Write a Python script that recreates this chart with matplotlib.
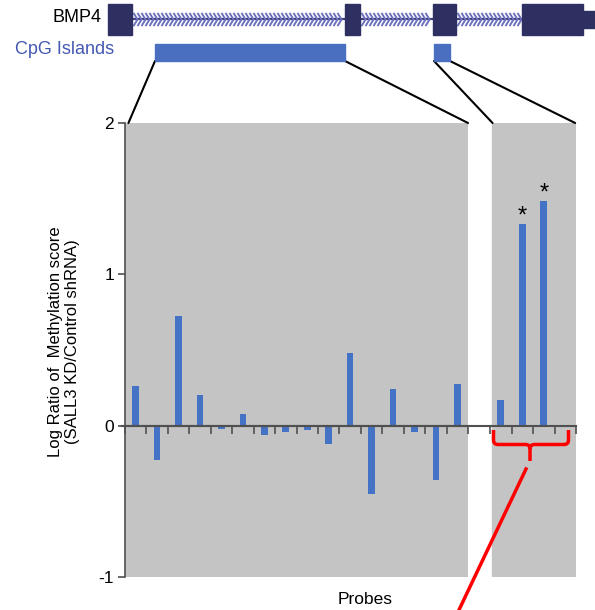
import numpy as np
import matplotlib
matplotlib.use("Agg")
import matplotlib.pyplot as plt
from matplotlib.path import Path
from matplotlib.patches import Rectangle, PathPatch, ConnectionPatch

plt.rcParams['font.family'] = ['Liberation Sans', 'DejaVu Sans']

# probe values, CpG island 1 (16 probes) and CpG island 2 (4 probes)
left_vals = [0.26, -0.23, 0.725, 0.20, -0.02, 0.075, -0.06, -0.045,
             -0.03, -0.12, 0.48, -0.45, 0.245, -0.045, -0.36, 0.275]
right_vals = [0.17, 1.33, 1.485, -0.01]
right_stars = [False, True, True, False]

# gene model (drawn in figure pixel units)
exon_start = [108, 345, 433, 522]
exon_end = [132, 360, 456, 583]
utr_start, utr_end = 583, 595
cpg_start = [155, 434]
cpg_end = [345, 450]

W, H = 595, 610
bar_color = '#4472C4'
gray = '#C4C4C4'
axis_color = '#505050'

fig = plt.figure(figsize=(W / 100, H / 100), dpi=100)


def px_axes(x0, y0, x1, y1):
    return fig.add_axes([x0 / W, 1 - y1 / H, (x1 - x0) / W, (y1 - y0) / H])


ax_l = px_axes(125, 123, 468, 577)
ax_r = px_axes(490, 123, 576, 577)

for ax, vals in [(ax_l, left_vals), (ax_r, right_vals)]:
    n = len(vals)
    ax.set_facecolor(gray)
    ax.bar(np.arange(n), vals, width=0.31, color=bar_color, zorder=3)
    ax.set_xlim(-0.5, n - 0.5)
    ax.set_ylim(-1, 2)
    ax.spines['top'].set_visible(False)
    ax.spines['right'].set_visible(False)
    ax.spines['bottom'].set_position(('data', 0))
    ax.spines['bottom'].set_color(axis_color)
    ax.spines['bottom'].set_linewidth(1.5)
    ax.spines['bottom'].set_zorder(4)
    ax.set_xticks(np.arange(n + 1) - 0.5)
    ax.tick_params(axis='x', direction='out', length=6, width=1.2,
                   colors=axis_color, labelbottom=False)

ax_l.spines['left'].set_color(axis_color)
ax_l.spines['left'].set_linewidth(1.2)
ax_l.set_yticks([-1, 0, 1, 2])
ax_l.set_yticklabels(['-1', '0', '1', '2'])
ax_l.tick_params(axis='y', direction='out', length=5, width=1.2,
                 color=axis_color, labelsize=12.5, pad=3)
ax_r.spines['left'].set_visible(False)
ax_r.set_yticks([])
# right panel's gray starts a touch inside its first tick
ax_r.set_facecolor('none')
ax_r.axvspan(-0.41, 3.5, color=gray, zorder=0)
# zero line bridging the gap between panels
ax_l.axhline(0, xmin=-0.01, xmax=(576 - 125) / 343, color=axis_color,
             lw=1.5, clip_on=False, zorder=4)

for i, (v, s) in enumerate(zip(right_vals, right_stars)):
    if s:
        ax_r.text(i, v + 0.012, '*', ha='center', va='baseline', fontsize=17)

fig.text(64 / W, 1 - 342 / H,
         'Log Ratio of  Methylation score\n(SALL3 KD/Control shRNA)',
         rotation=90, ha='center', va='center', fontsize=12,
         multialignment='center')
fig.text(365 / W, 1 - 600 / H, 'Probes', ha='center', va='center', fontsize=12.5)

# overlay in pixel coordinates for the gene model and annotations
ov = fig.add_axes([0, 0, 1, 1], zorder=5)
ov.patch.set_alpha(0)
ov.set_xlim(0, W)
ov.set_ylim(H, 0)
ov.axis('off')

chevron = Path([(-0.3, 1), (0.3, 0), (-0.3, -1)],
               [Path.MOVETO, Path.LINETO, Path.LINETO])
for a, b in zip(exon_end[:-1], exon_start[1:]):
    ov.plot([a, b], [19, 19], color='#3E4080', lw=1.6, zorder=1)
    xs = np.arange(a + 3, b - 2, 4.0)
    ov.plot(xs, np.full_like(xs, 19), ls='none', marker=chevron,
            markersize=9.5, mfc='none', mec='#6E71BC', mew=1.4, zorder=2)
for a, b in zip(exon_start, exon_end):
    ov.add_patch(Rectangle((a, 4), b - a, 30.5, color='#2F3062', zorder=3))
ov.add_patch(Rectangle((utr_start, 11), utr_end - utr_start, 17, color='#2F3062', zorder=3))
for a, b in zip(cpg_start, cpg_end):
    ov.add_patch(Rectangle((a, 44), b - a, 17, color='#4A6FC0', zorder=3))

ov.text(102, 17, 'BMP4', ha='right', va='center', fontsize=13)
ov.text(114, 50, 'CpG Islands', ha='right', va='center', fontsize=13, color='#4458B2')

# lines linking CpG islands to their panels
links = [((cpg_start[0], 61), ax_l, (0.01, 1.0)), ((cpg_end[0], 61), ax_l, (1.0, 1.0)),
         ((cpg_start[1], 61), ax_r, (0.03, 1.0)), ((cpg_end[1], 61), ax_r, (0.99, 1.0))]
for xy, tax, xyb in links:
    con = ConnectionPatch(xyA=xy, coordsA=ov.transData, xyB=xyb,
                          coordsB=tax.transAxes, color='black', lw=1.5)
    fig.add_artist(con)

# red brace under CpG island 2 probes
bl, br, bc, top, mid, tip = 493.5, 568.5, 530, 430, 444.5, 461
r = 4.5
brace = Path([(bl, top), (bl, mid - r), (bl, mid), (bl + r, mid), (bc - r, mid),
              (bc, mid), (bc, mid + r), (bc, tip),
              (br, top), (br, mid - r), (br, mid), (br - r, mid), (bc + r, mid),
              (bc, mid), (bc, mid + r)],
             [Path.MOVETO, Path.LINETO, Path.CURVE3, Path.CURVE3, Path.LINETO,
              Path.CURVE3, Path.CURVE3, Path.LINETO,
              Path.MOVETO, Path.LINETO, Path.CURVE3, Path.CURVE3, Path.LINETO,
              Path.CURVE3, Path.CURVE3])
ov.add_patch(PathPatch(brace, fc='none', ec='red', lw=2.5, capstyle='butt'))
ov.plot([526, 458], [469, 612], color='red', lw=2.5, clip_on=False)

fig.savefig('out.png', dpi=100)
